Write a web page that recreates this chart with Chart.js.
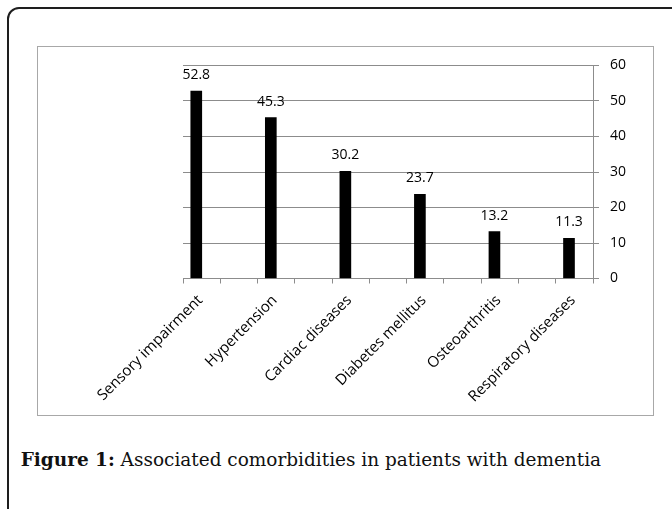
<!DOCTYPE html>
<html><head><meta charset="utf-8">
<script src="https://cdn.jsdelivr.net/npm/chart.js@4.4.1/dist/chart.umd.min.js"></script>
<style>
html,body{margin:0;padding:0;background:#fff;width:672px;height:509px;overflow:hidden;position:relative;}
#outer{position:absolute;left:7px;top:7px;width:720px;height:600px;border:2px solid #1e1e1e;border-radius:12px;box-sizing:border-box;}
#frame{position:absolute;left:37px;top:46px;width:617px;height:370px;border:1.5px solid #a8a8a8;box-sizing:border-box;}
#wrap{position:absolute;left:37px;top:46px;width:616px;height:369px;}
#caption{position:absolute;left:20.7px;top:452px;font-family:"DejaVu Serif";font-size:18px;line-height:1;white-space:nowrap;color:#111;}
#caption b{font-weight:bold;}
#probe{position:absolute;left:-999px;top:0;font-family:"Open Sans";font-size:14px;}
</style></head>
<body>
<div id="outer"></div>
<div id="frame"></div>
<div id="wrap"><canvas id="c" width="616" height="369"></canvas></div>
<div id="caption"><b>Figure 1:</b> Associated comorbidities in patients with dementia</div>
<div id="probe">Sensory 0123456789</div>
<script>
const categories = ["Sensory impairment", "Hypertension", "Cardiac diseases", "Diabetes mellitus", "Osteoarthritis", "Respiratory diseases"];
const values = [52.8, 45.3, 30.2, 23.7, 13.2, 11.3];
const yTicks = [0, 10, 20, 30, 40, 50, 60];

const xMin = -0.178, xMax = 5.322;
const gridCol = '#8c8c8c';
const FONT = 'Open Sans';

const valueLabels = {
  id: 'valueLabels',
  afterDatasetsDraw(chart) {
    const ctx = chart.ctx;
    const meta = chart.getDatasetMeta(0);
    ctx.save();
    ctx.font = '14px "' + FONT + '"';
    ctx.fillStyle = '#000';
    ctx.textAlign = 'center';
    ctx.textBaseline = 'middle';
    meta.data.forEach((bar, i) => {
      ctx.fillText(values[i].toFixed(1), bar.x, bar.y - 16);
    });
    ctx.restore();
  }
};

function draw() {
  new Chart(document.getElementById('c'), {
    type: 'bar',
    data: {
      datasets: [{
        data: values.map((v, i) => ({x: i, y: v})),
        backgroundColor: '#000',
        borderWidth: 0,
        barThickness: 11
      }]
    },
    options: {
      responsive: false,
      animation: false,
      layout: {padding: {left: 146, top: 19.5, right: 0, bottom: 0}},
      plugins: {legend: {display: false}, tooltip: {enabled: false}},
      scales: {
        x: {
          type: 'linear',
          position: 'bottom',
          offset: false,
          min: xMin,
          max: xMax,
          afterBuildTicks: s => {
            const t = [];
            for (let k = 0; k <= 11; k++) t.push({value: xMin + k * 0.5});
            categories.forEach((c, i) => t.push({value: i}));
            t.sort((a, b) => a.value - b.value);
            s.ticks = t;
          },
          afterFit: s => { s.height = 136.5; },
          grid: {
            offset: false,
            drawOnChartArea: false,
            drawTicks: true,
            tickLength: 5,
            tickColor: ctx => (ctx.tick && Number.isInteger(ctx.tick.value)) ? 'rgba(0,0,0,0)' : gridCol
          },
          border: {display: true, color: gridCol, width: 1},
          ticks: {
            autoSkip: false,
            minRotation: 45,
            maxRotation: 45,
            padding: 8,
            labelOffset: 4,
            color: '#000',
            font: {family: FONT, size: 15},
            callback: v => Number.isInteger(v) ? categories[v] : ''
          }
        },
        y: {
          position: 'right',
          min: 0,
          max: 60,
          afterBuildTicks: s => { s.ticks = yTicks.map(v => ({value: v})); },
          afterFit: s => { s.width = 60; },
          grid: {color: gridCol, lineWidth: 1, drawTicks: true, tickLength: 6, tickColor: gridCol},
          border: {display: true, color: gridCol, width: 1},
          ticks: {padding: 11, color: '#000', font: {family: FONT, size: 14}}
        }
      }
    },
    plugins: [valueLabels]
  });
}

function fitCaption() {
  const cap = document.getElementById('caption');
  cap.style.fontSize = '18px';
  const w = cap.getBoundingClientRect().width;
  const fs = 18 * 581 / w;
  cap.style.fontSize = fs + 'px';
  cap.style.top = (467 - 0.846 * fs) + 'px';
}

Promise.all([
  document.fonts.load('14px "Open Sans"'),
  document.fonts.load('18px "DejaVu Serif"'),
  document.fonts.load('bold 18px "DejaVu Serif"')
]).catch(() => {}).then(() => { fitCaption(); draw(); });
</script>
</body></html>
